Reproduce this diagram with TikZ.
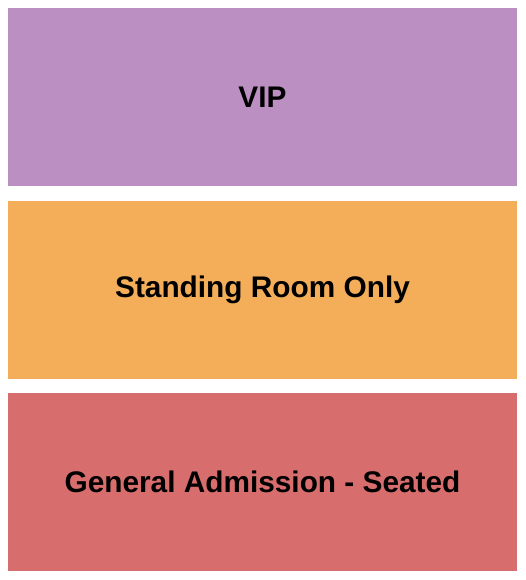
\documentclass[tikz,border=0pt]{standalone}
\usepackage{fontspec}
\setmainfont{Liberation Sans}
\definecolor{vipcol}{HTML}{BB8FC2}
\definecolor{srocol}{HTML}{F4AE5A}
\definecolor{gascol}{HTML}{D76D6C}
\tikzset{zone/.style={rectangle, inner sep=0pt, minimum width=509pt, minimum height=178pt,
                      font=\bfseries\fontsize{29.8}{34}\selectfont}}
\newcommand {\zone}[4] {\node[zone, fill=#2] (#1) at (262.5,#3) {#4};}

\begin{document}
\begin{tikzpicture}[x=1pt, y=-1pt]
	\useasboundingbox (0,0) rectangle (525,580);
	\zone{vip}{vipcol}{97}{VIP}
	\zone{sro}{srocol}{290}{Standing Room Only}
	\zone{ga}{gascol}{482}{General Admission - Seated}
\end{tikzpicture}
\end{document}
